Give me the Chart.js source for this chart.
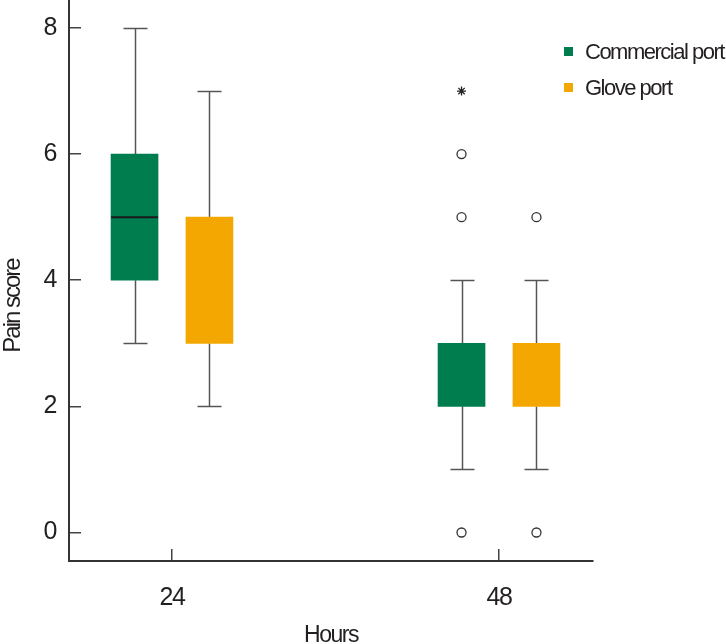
<!DOCTYPE html>
<html><head><meta charset="utf-8">
<script src="https://cdn.jsdelivr.net/npm/chart.js@4.4.1/dist/chart.umd.min.js"></script>
<style>html,body{margin:0;padding:0;background:#fff}canvas{display:block}</style>
</head><body>
<canvas id="c" width="726" height="644"></canvas>
<script>
// ---- data ----
const hours = [24, 48];
const yTicks = [0, 2, 4, 6, 8];
const seriesNames = ['Commercial port', 'Glove port'];

const commercialMin    = [3, 1];
const commercialQ1     = [4, 2];
const commercialMedian = [5, null];
const commercialQ3     = [6, 3];
const commercialMax    = [8, 4];

const gloveMin    = [2, 1];
const gloveQ1     = [3, 2];
const gloveMedian = [null, null];
const gloveQ3     = [5, 3];
const gloveMax    = [7, 4];

const commercialOutlierHours  = [48, 48, 48];
const commercialOutlierValues = [6, 5, 0];
const commercialExtremeHours  = [48];
const commercialExtremeValues = [7];
const gloveOutlierHours  = [48, 48];
const gloveOutlierValues = [5, 0];

// ---- styling ----
const GREEN = '#007d4f';
const ORANGE = '#f4a700';
const TEXT = '#231f20';
const FONT = '"Liberation Sans", Arial, sans-serif';
const SHIFT = 2.75; // group offset, in axis units
const BOX_W = 47;
const CAP_W = 24;

function boxData(q1, q3, shift) {
  return hours.map((h, i) => ({ x: h + shift, y: [q1[i], q3[i]] }));
}
function pts(hs, vs, shift) {
  return hs.map((h, i) => ({ x: h + shift, y: vs[i] }));
}

const stats = [
  { min: commercialMin, med: commercialMedian, max: commercialMax, q1: commercialQ1, q3: commercialQ3 },
  { min: gloveMin, med: gloveMedian, max: gloveMax, q1: gloveQ1, q3: gloveQ3 }
];

const condensePlugin = {
  id: 'condense',
  beforeDraw(chart) { chart.ctx.letterSpacing = '-1.5px'; }
};

const whiskerPlugin = {
  id: 'whiskers',
  beforeDatasetsDraw(chart) {
    const ctx = chart.ctx, y = chart.scales.y;
    ctx.save();
    ctx.strokeStyle = '#555';
    ctx.lineWidth = 1.5;
    [0, 1].forEach(di => {
      const meta = chart.getDatasetMeta(di);
      const s = stats[di];
      meta.data.forEach((el, i) => {
        const x = Math.round(el.x) + 0.5;
        const segs = [[s.max[i], s.q3[i]], [s.q1[i], s.min[i]]];
        segs.forEach(([a, b]) => {
          ctx.beginPath();
          ctx.moveTo(x, y.getPixelForValue(a));
          ctx.lineTo(x, y.getPixelForValue(b));
          ctx.stroke();
        });
        [s.max[i], s.min[i]].forEach(v => {
          const py = Math.round(y.getPixelForValue(v)) + 0.5;
          ctx.beginPath();
          ctx.moveTo(x - CAP_W / 2, py);
          ctx.lineTo(x + CAP_W / 2, py);
          ctx.stroke();
        });
      });
    });
    ctx.restore();
  },
  afterDatasetsDraw(chart) {
    const ctx = chart.ctx, y = chart.scales.y;
    ctx.save();
    ctx.strokeStyle = '#1a1a1a';
    ctx.lineWidth = 2;
    [0, 1].forEach(di => {
      const meta = chart.getDatasetMeta(di);
      const s = stats[di];
      meta.data.forEach((el, i) => {
        if (s.med[i] == null) return;
        const py = y.getPixelForValue(s.med[i]);
        ctx.beginPath();
        ctx.moveTo(el.x - BOX_W / 2, py);
        ctx.lineTo(el.x + BOX_W / 2, py);
        ctx.stroke();
      });
    });
    ctx.restore();
  }
};

const legendPlugin = {
  id: 'cornerLegend',
  afterDraw(chart) {
    const ctx = chart.ctx;
    ctx.save();
    ctx.letterSpacing = '-1.5px';
    ctx.font = '22px ' + FONT;
    ctx.textBaseline = 'middle';
    const rows = [52, 88];
    [0, 1].forEach(di => {
      const ds = chart.data.datasets[di];
      ctx.fillStyle = ds.backgroundColor;
      ctx.fillRect(564, rows[di] - 5, 9, 9);
      ctx.fillStyle = TEXT;
      ctx.fillText(ds.label, 585, rows[di] + 1);
    });
    // y axis title
    ctx.letterSpacing = '-2px';
    ctx.translate(13, 306);
    ctx.rotate(-Math.PI / 2);
    ctx.textAlign = 'center';
    ctx.font = '24px ' + FONT;
    ctx.fillText('Pain score', 0, 0);
    ctx.restore();
  }
};

const outlierStyle = {
  type: 'scatter', pointStyle: 'circle', pointRadius: 4.5,
  pointBackgroundColor: '#fff', pointBorderColor: '#333', pointBorderWidth: 1.3, showLine: false
};

new Chart(document.getElementById('c'), {
  type: 'bar',
  data: {
    datasets: [
      { label: seriesNames[0], data: boxData(commercialQ1, commercialQ3, -SHIFT), backgroundColor: GREEN,
        barThickness: BOX_W, grouped: false, borderWidth: 0 },
      { label: seriesNames[1], data: boxData(gloveQ1, gloveQ3, SHIFT), backgroundColor: ORANGE,
        barThickness: BOX_W, grouped: false, borderWidth: 0 },
      Object.assign({ label: 'Commercial outliers', data: pts(commercialOutlierHours, commercialOutlierValues, -SHIFT) }, outlierStyle),
      { type: 'scatter', label: 'Commercial extremes', data: pts(commercialExtremeHours, commercialExtremeValues, -SHIFT),
        pointStyle: 'star', pointRadius: 4.5, pointBorderColor: '#222', pointBorderWidth: 1.3, showLine: false },
      Object.assign({ label: 'Glove outliers', data: pts(gloveOutlierHours, gloveOutlierValues, SHIFT) }, outlierStyle)
    ]
  },
  options: {
    responsive: false,
    animation: false,
    layout: { autoPadding: false, padding: { left: 0, top: 0, right: 133, bottom: 0 } },
    plugins: { legend: { display: false }, tooltip: { enabled: false } },
    scales: {
      x: {
        type: 'linear', min: 16.44, max: 54.9, offset: false,
        afterBuildTicks: s => { s.ticks = hours.map(v => ({ value: v })); },
        afterFit: s => { s.height = 83; s.paddingLeft = 0; s.paddingRight = 0; },
        ticks: { font: { family: FONT, size: 25 }, color: TEXT, padding: 34, maxRotation: 0 },
        grid: { display: true, offset: false, drawOnChartArea: false, drawTicks: true, tickLength: -12, color: '#444', lineWidth: 1.5 },
        border: { display: true, color: '#333', width: 2 },
        title: { display: true, text: 'Hours', color: TEXT, font: { family: FONT, size: 23, lineHeight: 1 }, padding: { top: 0, bottom: -3 } }
      },
      y: {
        type: 'linear', min: -0.452, max: 8.444,
        afterBuildTicks: s => { s.ticks = yTicks.map(v => ({ value: v })); },
        afterFit: s => { s.width = 69; s.paddingTop = 0; s.paddingBottom = 0; },
        ticks: { font: { family: FONT, size: 25 }, color: TEXT, padding: 25 },
        grid: { display: true, drawOnChartArea: false, drawTicks: true, tickLength: -12, color: '#444', lineWidth: 1.5 },
        border: { display: true, color: '#333', width: 2 }
      }
    }
  },
  plugins: [condensePlugin, whiskerPlugin, legendPlugin]
});
</script>
</body></html>
